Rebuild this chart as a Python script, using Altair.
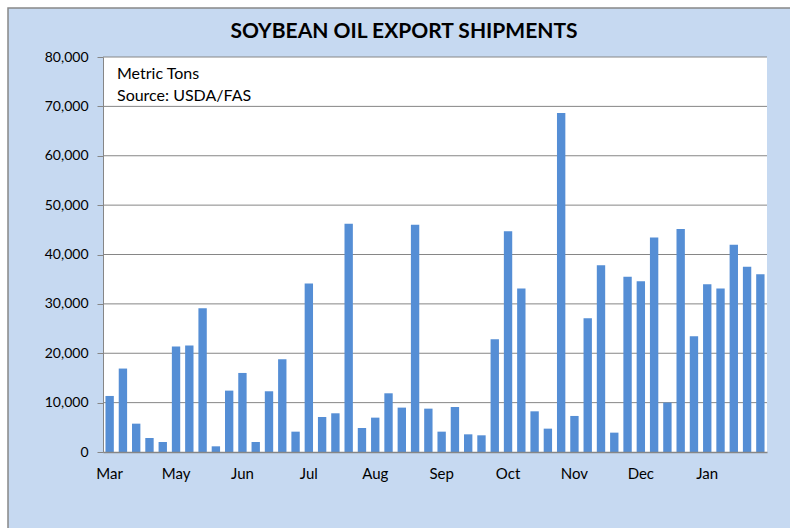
import altair as alt
import pandas as pd

values = [11350, 16900, 5740, 2840, 2030, 21350, 21550, 29120, 1150, 12430,
          16010, 2030, 12300, 18780, 4120, 34120, 7090, 7840, 46220, 4860,
          6960, 11890, 8990, 46010, 8780, 4120, 9120, 3580, 3380, 22840,
          44730, 33110, 8240, 4730, 68650, 7300, 27090, 37840, 3920, 35470,
          34590, 43450, 10000, 45140, 23450, 33990, 33110, 41960, 37500, 36010]
label_weeks = [1, 6, 11, 16, 21, 26, 31, 36, 41, 46]
month_labels = ["Mar", "May", "Jun", "Jul", "Aug", "Sep", "Oct", "Nov", "Dec", "Jan"]
y_ticks = [0, 10000, 20000, 30000, 40000, 50000, 60000, 70000, 80000]
note_lines = ["Metric Tons", "Source: USDA/FAS"]
title_text = "SOYBEAN OIL EXPORT SHIPMENTS"

df = pd.DataFrame({"week": list(range(1, len(values) + 1)), "tons": values})
grid_df = pd.DataFrame({"tons": y_ticks[1:]})
one = pd.DataFrame({"a": [0]})

expr = "''"
for w, m in reversed(list(zip(label_weeks, month_labels))):
    expr = f"datum.value == {w} ? '{m}' : ({expr})"

FONT = "Lato"
W, H = 664, 395

frame = alt.Chart(one).mark_rect(fill="#C6D9F1", stroke="#888888", strokeWidth=1.5).encode(
    x=alt.value(-95), x2=alt.value(720), y=alt.value(-49), y2=alt.value(500))
plotbg = alt.Chart(one).mark_rect(fill="white").encode(
    x=alt.value(0), x2=alt.value(W), y=alt.value(0), y2=alt.value(H))

grid = alt.Chart(grid_df).mark_rule(color="#868686", strokeWidth=1).encode(
    y=alt.Y("tons:Q"))

bars = alt.Chart(df).mark_bar(color="#558ED5").encode(
    x=alt.X("week:O", title=None,
            scale=alt.Scale(paddingInner=0.37, paddingOuter=0.185),
            axis=alt.Axis(values=label_weeks, labelExpr=expr, labelAngle=0,
                          ticks=False, labelPadding=14, labelFontSize=15,
                          labelColor="black", labelFont=FONT,
                          domainColor="#868686", domainWidth=1.5, grid=False,
                          zindex=1)),
    y=alt.Y("tons:Q", title=None,
            scale=alt.Scale(domain=[0, 80000], nice=False),
            axis=alt.Axis(values=y_ticks, format=",.0f", labelFontSize=14,
                          labelColor="black", labelFont=FONT, tickSize=6,
                          tickColor="#868686", domainColor="#868686",
                          grid=False, labelPadding=9, zindex=1)),
)

note = alt.Chart(pd.DataFrame({"t": [note_lines]})).mark_text(
    align="left", baseline="top", fontSize=16, font=FONT, lineHeight=22,
    color="black"
).encode(x=alt.value(14), y=alt.value(9), text="t")

title = alt.Chart(pd.DataFrame({"t": [title_text]})).mark_text(
    align="center", baseline="middle", fontSize=21, font=FONT,
    fontWeight="bold", color="black"
).encode(x=alt.value(301), y=alt.value(-25), text="t")

chart = alt.layer(frame, plotbg, grid, bars, note, title).properties(
    width=W, height=H,
    autosize=alt.AutoSizeParams(type="none"),
    padding={"left": 103, "top": 57, "right": 23, "bottom": 76},
    background="white",
).configure_view(fill=None, stroke=None)

chart.save("out.html", embed_options={"renderer": "svg", "actions": False})
